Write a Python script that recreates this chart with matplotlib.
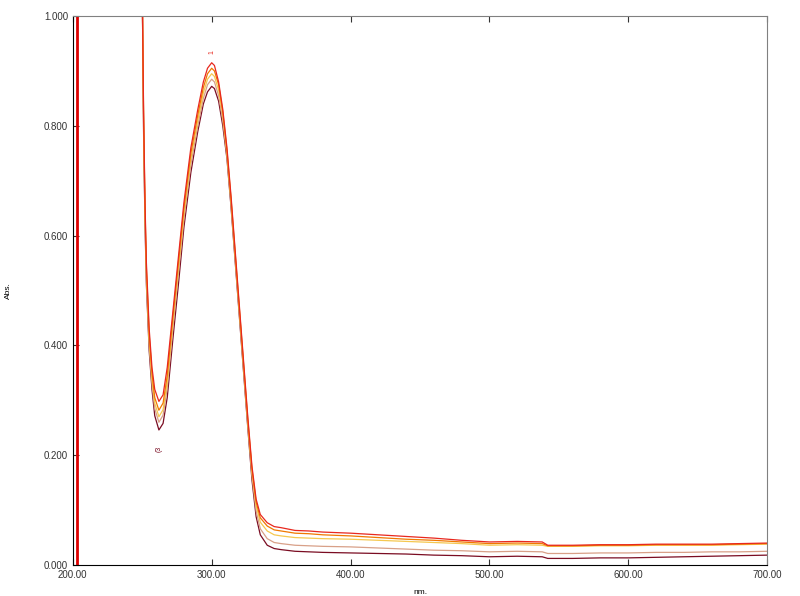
import matplotlib
matplotlib.use("Agg")
from matplotlib import pyplot as plt

plt.rcParams['font.family'] = ['Liberation Sans', 'DejaVu Sans']

# wavelength grid (nm)
wl = [250, 251, 252, 253, 255, 257, 259, 262, 265, 268,
      272, 276, 280, 285, 290, 294, 297, 300, 302, 305,
      308, 311, 314, 317, 320, 323, 326, 329, 332, 335,
      340, 345, 350, 360, 370, 380, 400, 420, 440, 460,
      480, 500, 520, 538, 542, 560, 580, 600, 620, 640,
      660, 680, 700]

abs_red = [1.05, 0.82, 0.66, 0.55, 0.43, 0.36, 0.32, 0.298, 0.31, 0.36,
           0.46, 0.56, 0.66, 0.76, 0.83, 0.88, 0.905, 0.915, 0.91, 0.88,
           0.83, 0.76, 0.67, 0.57, 0.47, 0.37, 0.27, 0.18, 0.12, 0.092,
           0.077, 0.070, 0.068, 0.063, 0.062, 0.060, 0.058, 0.055, 0.052, 0.049,
           0.045, 0.042, 0.043, 0.042, 0.036, 0.036, 0.037, 0.037, 0.038, 0.038,
           0.038, 0.039, 0.040]

abs_orange = [1.05, 0.81, 0.65, 0.54, 0.42, 0.35, 0.305, 0.282, 0.295, 0.345,
              0.45, 0.55, 0.65, 0.75, 0.82, 0.87, 0.895, 0.905, 0.90, 0.875,
              0.825, 0.755, 0.665, 0.565, 0.465, 0.365, 0.265, 0.175, 0.115, 0.086,
              0.071, 0.064, 0.062, 0.058, 0.057, 0.055, 0.053, 0.050, 0.047, 0.045,
              0.042, 0.039, 0.040, 0.039, 0.035, 0.035, 0.036, 0.036, 0.037, 0.037,
              0.037, 0.038, 0.039]

abs_yellow = [1.05, 0.80, 0.64, 0.53, 0.41, 0.34, 0.295, 0.270, 0.283, 0.333,
              0.44, 0.54, 0.64, 0.74, 0.81, 0.86, 0.885, 0.895, 0.89, 0.865,
              0.82, 0.75, 0.66, 0.56, 0.46, 0.36, 0.26, 0.17, 0.108, 0.078,
              0.062, 0.055, 0.053, 0.050, 0.049, 0.048, 0.047, 0.045, 0.043, 0.041,
              0.039, 0.036, 0.037, 0.036, 0.034, 0.034, 0.035, 0.035, 0.036, 0.036,
              0.036, 0.037, 0.038]

abs_tan = [1.05, 0.79, 0.63, 0.52, 0.40, 0.33, 0.285, 0.260, 0.273, 0.323,
           0.43, 0.53, 0.63, 0.73, 0.80, 0.85, 0.875, 0.885, 0.88, 0.855,
           0.81, 0.745, 0.655, 0.555, 0.455, 0.355, 0.255, 0.163, 0.098, 0.066,
           0.048, 0.041, 0.039, 0.036, 0.035, 0.034, 0.033, 0.031, 0.029, 0.027,
           0.026, 0.024, 0.025, 0.024, 0.021, 0.021, 0.022, 0.022, 0.023, 0.023,
           0.024, 0.024, 0.025]

abs_maroon = [1.05, 0.78, 0.62, 0.51, 0.39, 0.32, 0.272, 0.246, 0.258, 0.305,
              0.41, 0.51, 0.615, 0.715, 0.79, 0.84, 0.862, 0.872, 0.868, 0.845,
              0.80, 0.74, 0.65, 0.55, 0.45, 0.35, 0.25, 0.155, 0.088, 0.055,
              0.036, 0.030, 0.028, 0.025, 0.024, 0.023, 0.022, 0.021, 0.020, 0.018,
              0.017, 0.015, 0.016, 0.015, 0.012, 0.012, 0.013, 0.013, 0.014, 0.015,
              0.016, 0.017, 0.018]

x_ticks = [200, 300, 400, 500, 600, 700]
y_ticks = [0.0, 0.2, 0.4, 0.6, 0.8, 1.0]

fig = plt.figure(figsize=(8, 5.96), dpi=100)
ax = fig.add_axes([0.091, 0.052, 0.868, 0.921])

series = [(abs_maroon, '#7a0c22'), (abs_tan, '#d8a088'), (abs_yellow, '#f5c850'),
          (abs_orange, '#f07800'), (abs_red, '#e8281e')]
for vals, col in series:
    ax.plot(wl, vals, color=col, lw=0.9)

# marker line near the start of the scan
ax.axvline(203, color='#dd0000', lw=2)

# peak / valley pick labels
ax.text(300.5, 0.935, '1', color='#e8281e', fontsize=5, rotation=90, ha='center')
ax.text(262, 0.21, '(3', color='#7a0c22', fontsize=5, rotation=90, ha='center')

ax.set_xlim(200, 700)
ax.set_ylim(0, 1.0)
ax.set_xticks(x_ticks)
ax.set_xticklabels(['%.2f' % v for v in x_ticks])
ax.set_yticks(y_ticks)
ax.set_yticklabels(['%.3f' % v for v in y_ticks])
ax.tick_params(direction='in', length=4, labelsize=7, colors='#333333',
               top=True, bottom=True, left=True, right=False)

for side in ['left', 'bottom']:
    ax.spines[side].set_color('black')
for side in ['top', 'right']:
    ax.spines[side].set_color('#808080')

ax.set_xlabel('nm.', fontsize=6)
ax.xaxis.set_label_coords(0.5, -0.043)
ax.set_ylabel('Abs.', fontsize=6)
ax.yaxis.set_label_coords(-0.088, 0.5)

fig.savefig('out.png', dpi=100)
